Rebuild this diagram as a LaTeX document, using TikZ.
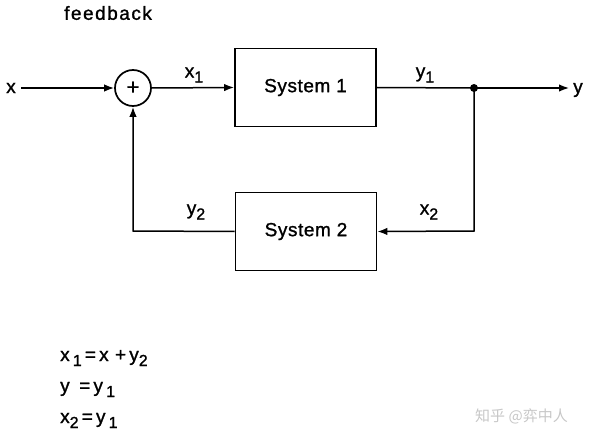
\documentclass[tikz,border=0pt]{standalone}
\usepackage{fontspec}
\setmainfont{Liberation Sans}[LetterSpace=3,FakeBold=1.2]
\newfontfamily\cjk{Noto Sans CJK SC}
\usetikzlibrary{arrows.meta}
\newcommand{\sbs}[1]{\raisebox{-0.5ex}{\fontsize{16}{16}\selectfont #1}}
\begin{document}
\begin{tikzpicture}[x=1pt,y=-1pt,
  every node/.style={font=\fontsize{19}{22}\selectfont},
  blockbox/.style={draw,line width=1.8pt,minimum width=141pt,minimum height=78pt,inner sep=0pt},
  sumnode/.style={draw,circle,line width=1.7pt,minimum size=36pt,inner sep=0pt,font=\fontsize{22}{22}\selectfont},
  conn/.style={line width=1.5pt},
  arr/.style={conn,-{Latex[length=10pt,width=7.5pt]}},
  lbl/.style={inner sep=0pt}]
\useasboundingbox (0,0) rectangle (600,441);
\node[lbl,anchor=west,font=\fontsize{19}{22}\selectfont\addfontfeature{LetterSpace=8}] (title) at (64,13) {feedback};
\node[lbl] (xin) at (11,88) {x};
\node[sumnode] (sum) at (133,88) {+};
\node[blockbox] (s1) at (305.5,87.5) {System 1};
\node[blockbox] (s2) at (306,231.5) {System 2};
\node[lbl] (yout) at (578,90) {y};
\coordinate (dot) at (474,88);
\coordinate (yend) at (569,88);
\coordinate (c1) at (474,231);
\coordinate (c2) at (133,231);
\fill (dot) circle (4pt);
\draw[arr] (21,88) -- (sum.west);
\draw[arr] (sum.east) -- (s1.west);
\draw[conn] (s1.east) -- (dot);
\draw[arr] (dot) -- (yend);
\draw[arr] (dot) -- (c1) -- (s2.east);
\draw[arr] (s2.west) -- (c2) -- (sum.south);
\node[lbl] (lx1) at (194,75) {x\sbs{1}};
\node[lbl] (ly1) at (425,75) {y\sbs{1}};
\node[lbl] (lx2) at (429,212) {x\sbs{2}};
\node[lbl] (ly2) at (196,212) {y\sbs{2}};
\node[lbl,anchor=base west] (e1) at (60,361) {x\,\sbs{1}\,=\,x\,\,+\,y\sbs{2}};
\node[lbl,anchor=base west] (e2) at (60,392) {y\,\,\,=\,y\,\sbs{1}};
\node[lbl,anchor=base west] (e3) at (60,423) {x\sbs{2}\,=\,y\,\sbs{1}};
\node[lbl,anchor=west,text=black!22,font=\cjk\fontsize{15}{18}\selectfont] (wm) at (475,416) {知乎 @弈中人};
\end{tikzpicture}
\end{document}
